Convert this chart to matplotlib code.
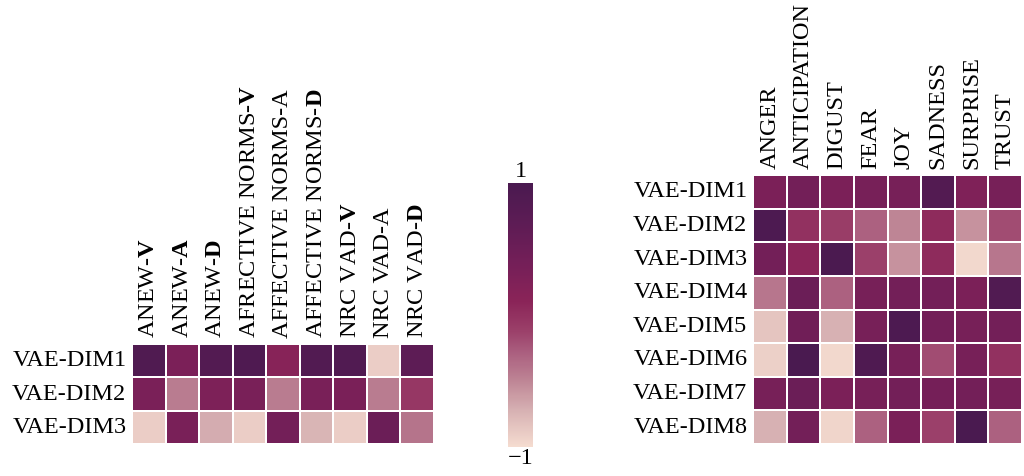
import numpy as np
import matplotlib
matplotlib.use("Agg")
import matplotlib.pyplot as plt
import seaborn as sns
from matplotlib.colors import LinearSegmentedColormap

plt.rcParams['font.family'] = ['Liberation Serif', 'DejaVu Serif']
plt.rcParams['mathtext.fontset'] = 'custom'
plt.rcParams['mathtext.rm'] = 'Liberation Serif'
plt.rcParams['mathtext.bf'] = 'Liberation Serif:bold'

# lexicon dimensions (left) vs VAE dims
lex_cols = ["ANEW-$\\mathbf{V}$", "ANEW-$\\mathbf{A}$", "ANEW-$\\mathbf{D}$",
            "AFRECTIVE NORMS-$\\mathbf{V}$", "AFFECTIVE NORMS-A", "AFFECTIVE NORMS-$\\mathbf{D}$",
            "NRC VAD-$\\mathbf{V}$", "NRC VAD-A", "NRC VAD-$\\mathbf{D}$"]
lex_rows = ["VAE-DIM1", "VAE-DIM2", "VAE-DIM3"]
lex_vals = np.array([
    [0.90, 0.30, 0.85, 0.92, 0.15, 0.87, 0.88, -0.90, 0.70],
    [0.32, -0.45, 0.28, 0.33, -0.45, 0.33, 0.32, -0.45, -0.05],
    [-0.90, 0.33, -0.70, -0.90, 0.40, -0.75, -0.90, 0.50, -0.40],
])

# emotion categories (right) vs VAE dims
emo_cols = ["ANGER", "ANTICIPATION", "DIGUST", "FEAR", "JOY", "SADNESS", "SURPRISE", "TRUST"]
emo_rows = ["VAE-DIM%d" % i for i in range(1, 9)]
emo_vals = np.array([
    [0.30, 0.40, 0.30, 0.35, 0.35, 0.85, 0.25, 0.35],
    [0.95, 0.00, -0.10, -0.30, -0.50, 0.05, -0.57, -0.18],
    [0.40, 0.10, 0.97, -0.12, -0.57, 0.05, -0.97, -0.42],
    [-0.42, 0.50, -0.30, 0.35, 0.40, 0.40, 0.30, 0.88],
    [-0.85, 0.45, -0.72, 0.35, 0.95, 0.40, 0.35, 0.40],
    [-0.92, 1.00, -0.97, 0.92, 0.35, -0.18, 0.35, 0.00],
    [0.35, 0.50, 0.30, 0.35, 0.40, 0.38, 0.40, 0.35],
    [-0.72, 0.40, -0.95, -0.30, 0.32, -0.12, 1.00, -0.30],
])

cmap = LinearSegmentedColormap.from_list("vae", [
    (0.00, "#f5dcd0"), (0.14, "#d6b0b2"), (0.255, "#bd8394"), (0.37, "#a85a7c"),
    (0.445, "#9a3e68"), (0.555, "#8a2458"), (0.69, "#751f58"), (0.84, "#5e1c55"),
    (1.00, "#4a1a50")])

fig = plt.figure(figsize=(10.24, 4.76), dpi=100)
ax1 = fig.add_axes([132 / 1024, 32 / 476, 302 / 1024, 100 / 476])
ax2 = fig.add_axes([753 / 1024, 32 / 476, 269 / 1024, 269 / 476])
cax = fig.add_axes([508 / 1024, 29 / 476, 25 / 1024, 264 / 476])

fs = 17.5
for ax, vals, cols, rows in [(ax1, lex_vals, lex_cols, lex_rows), (ax2, emo_vals, emo_cols, emo_rows)]:
    sns.heatmap(vals, ax=ax, cmap=cmap, vmin=-1, vmax=1, linewidths=1.2, linecolor='white',
                cbar=False, xticklabels=cols, yticklabels=rows)
    ax.xaxis.tick_top()
    ax.set_xticklabels(cols, rotation=90, fontsize=fs)
    ax.set_yticklabels(rows, rotation=0, fontsize=fs)
    ax.tick_params(length=0, pad=4)

sm = plt.cm.ScalarMappable(cmap=cmap, norm=plt.Normalize(-1, 1))
cb = fig.colorbar(sm, cax=cax)
cb.outline.set_visible(False)
cb.set_ticks([])
cax.text(0.5, 1.005, "1", transform=cax.transAxes, ha='center', va='bottom', fontsize=fs)
cax.text(0.5, -0.005, "\u22121", transform=cax.transAxes, ha='center', va='top', fontsize=fs)

fig.savefig("out.png", dpi=100, facecolor='white')
